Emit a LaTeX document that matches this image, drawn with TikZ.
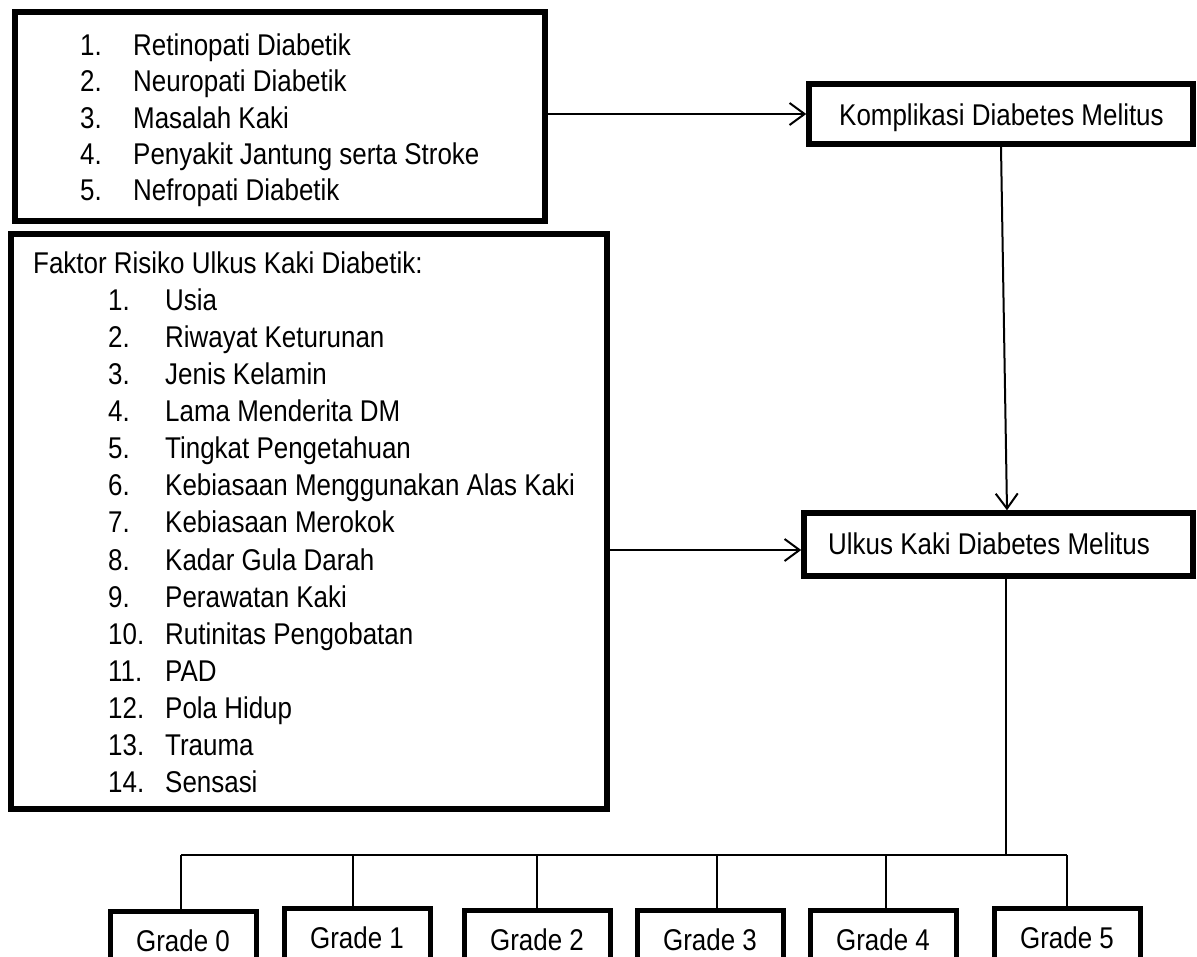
\documentclass[tikz,border=0pt]{standalone}
\usepackage{fontspec}
\setmainfont{Liberation Sans}[FakeStretch=0.865]
\usetikzlibrary{arrows.meta}
\newcommand\mainsize{\fontsize{30}{38}\selectfont}
\begin{document}
\begin{tikzpicture}[x=1pt,y=-1pt,
  box/.style={draw, line width=5.5pt, inner sep=0pt, rectangle},
  gbox/.style={draw, line width=5pt, inner sep=0pt, rectangle, minimum width=146pt, minimum height=58pt, font=\mainsize},
  conn/.style={line width=2pt},
  arr/.style={line width=2pt, -{Straight Barb[length=15pt,width=22pt]}},
  txt/.style={anchor=base west, inner sep=0pt, font=\mainsize},
]
\useasboundingbox (0,0) rectangle (1197,956);
\clip (0,0) rectangle (1197,956);
\fill[white] (0,0) rectangle (1197,956);

% frames
\node[box, minimum width=530pt, minimum height=209pt] (b1) at (280,116.5) {};
\node[box, minimum width=596pt, minimum height=575pt] (b2) at (309,521.5) {};
\node[box, minimum width=384pt, minimum height=60pt] (k) at (1001,114) {};
\node[box, minimum width=389pt, minimum height=63pt] (u) at (998.5,544.5) {};

% box texts
\node[txt] (kt) at (839,125.5) {Komplikasi Diabetes Melitus};
\node[txt] (ut) at (828,554.5) {Ulkus Kaki Diabetes Melitus};

\foreach \t [count=\i] in {Retinopati Diabetik, Neuropati Diabetik, Masalah Kaki, Penyakit Jantung serta Stroke, Nefropati Diabetik}{
  \node[txt] (b1n\i) at (80,{55.5+36.25*(\i-1)}) {\i.};
  \node[txt] (b1t\i) at (133,{55.5+36.25*(\i-1)}) {\t};
}

\node[txt] (ft) at (33,273.5) {Faktor Risiko Ulkus Kaki Diabetik:};
\foreach \t [count=\i] in {Usia, Riwayat Keturunan, Jenis Kelamin, Lama Menderita DM, Tingkat Pengetahuan, Kebiasaan Menggunakan Alas Kaki, Kebiasaan Merokok, Kadar Gula Darah, Perawatan Kaki, Rutinitas Pengobatan, PAD, Pola Hidup, Trauma, Sensasi}{
  \node[txt] (b2n\i) at (108,{310.5+37.08*(\i-1)}) {\i.};
  \node[txt] (b2t\i) at (165,{310.5+37.08*(\i-1)}) {\t};
}

% grade boxes
\foreach \i/\cx/\tp in {0/183/909, 1/357/906, 2/537/908, 3/710/908, 4/883/908, 5/1067/906}{
  \node[gbox, anchor=north] (g\i) at (\cx,\tp) {Grade \i};
}

% bus
\coordinate (t0) at (181,855);
\coordinate (t1) at (353,855);
\coordinate (t2) at (537,855);
\coordinate (t3) at (717,855);
\coordinate (t4) at (886,855);
\coordinate (t5) at (1067,855);
\coordinate (ub) at (1006,855);
\draw[conn] (t0) -- (t5);
\foreach \i in {0,...,5}{
  \draw[conn] (t\i) -- (t\i |- g\i.north);
}
\draw[conn] (u.south -| ub) -- (ub);

% arrows
\coordinate (ua) at (1007,0);
\draw[arr] (k.south) -- (ua |- u.north);
\draw[arr] (b1.east |- k.west) -- (k.west);
\coordinate (ul) at ([yshift=-5.5pt]u.west);
\draw[arr] (b2.east |- ul) -- (ul);
\end{tikzpicture}
\end{document}
